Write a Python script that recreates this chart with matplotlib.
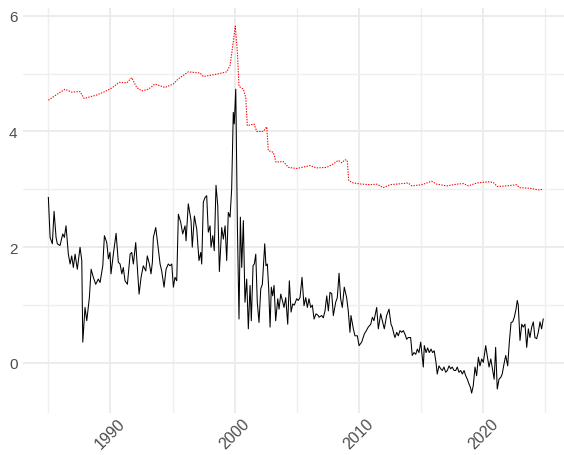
import matplotlib
matplotlib.use("Agg")
import matplotlib.pyplot as plt
from matplotlib.ticker import FixedLocator

# ---- data ----
black_years = [
    1985.0, 1985.14, 1985.32, 1985.46, 1985.62, 1985.72, 1985.94, 1986.16, 1986.29, 1986.42,
    1986.61, 1986.75, 1986.88, 1987.01, 1987.15, 1987.33, 1987.55, 1987.69, 1987.77, 1987.95,
    1988.09, 1988.30, 1988.44, 1988.62, 1988.81, 1989.02, 1989.16, 1989.38, 1989.51, 1989.70,
    1989.83, 1989.96, 1990.04, 1990.23, 1990.45, 1990.63, 1990.77, 1990.91, 1991.03, 1991.17,
    1991.36, 1991.58, 1991.71, 1991.84, 1992.03, 1992.30, 1992.46, 1992.64, 1992.84, 1992.96,
    1993.13, 1993.26, 1993.37, 1993.45, 1993.64, 1993.80, 1993.99, 1994.12, 1994.31, 1994.47,
    1994.65, 1994.79, 1994.93, 1995.06, 1995.19, 1995.33, 1995.46, 1995.65, 1995.81, 1996.0,
    1996.08, 1996.26, 1996.48, 1996.58, 1996.75, 1996.94, 1997.12, 1997.26, 1997.34, 1997.47,
    1997.61, 1997.74, 1997.87, 1998.01, 1998.09, 1998.23, 1998.35, 1998.49, 1998.63, 1998.76,
    1998.95, 1999.08, 1999.22, 1999.35, 1999.48, 1999.62, 1999.75, 1999.88, 1999.96, 2000.08,
    2000.21, 2000.34, 2000.45, 2000.56, 2000.69, 2000.82, 2000.96, 2001.09, 2001.23, 2001.33,
    2001.47, 2001.57, 2001.69, 2001.81, 2001.95, 2002.09, 2002.22, 2002.41, 2002.51, 2002.62,
    2002.73, 2002.84, 2002.94, 2003.05, 2003.16, 2003.29, 2003.46, 2003.56, 2003.70, 2003.83,
    2003.96, 2004.10, 2004.26, 2004.39, 2004.53, 2004.66, 2004.79, 2004.98, 2005.11, 2005.25,
    2005.41, 2005.57, 2005.71, 2005.84, 2005.97, 2006.11, 2006.24, 2006.38, 2006.54, 2006.72,
    2006.78, 2006.99, 2007.12, 2007.26, 2007.40, 2007.53, 2007.66, 2007.80, 2007.93, 2008.12,
    2008.25, 2008.39, 2008.52, 2008.65, 2008.81, 2009.0, 2009.13, 2009.27, 2009.35, 2009.54,
    2009.67, 2009.86, 2010.0, 2010.21, 2010.42, 2010.56, 2010.74, 2010.94, 2011.07, 2011.20,
    2011.42, 2011.55, 2011.74, 2011.87, 2012.03, 2012.22, 2012.41, 2012.57, 2012.67, 2012.84,
    2012.89, 2013.03, 2013.16, 2013.29, 2013.43, 2013.56, 2013.69, 2013.83, 2013.96, 2014.15,
    2014.28, 2014.42, 2014.56, 2014.69, 2014.82, 2014.96, 2015.06, 2015.17, 2015.25, 2015.39,
    2015.52, 2015.65, 2015.79, 2015.92, 2016.05, 2016.19, 2016.29, 2016.43, 2016.57, 2016.70,
    2016.83, 2016.97, 2017.10, 2017.24, 2017.37, 2017.50, 2017.64, 2017.78, 2017.90, 2018.04,
    2018.18, 2018.31, 2018.45, 2018.58, 2018.71, 2018.84, 2018.96, 2019.06, 2019.19, 2019.33,
    2019.46, 2019.60, 2019.73, 2019.87, 2020.0, 2020.19, 2020.33, 2020.46, 2020.60, 2020.73,
    2020.87, 2020.99, 2021.12, 2021.26, 2021.40, 2021.52, 2021.66, 2021.80, 2021.96, 2022.09,
    2022.23, 2022.36, 2022.49, 2022.63, 2022.73, 2022.81, 2022.95, 2023.09, 2023.21, 2023.35,
    2023.49, 2023.62, 2023.75, 2023.89, 2024.02, 2024.15, 2024.29, 2024.42, 2024.56, 2024.69,
    2024.82,
]
black_values = [
    2.86, 2.17, 2.06, 2.62, 2.17, 2.06, 2.03, 2.23, 2.17, 2.37,
    1.88, 1.71, 1.85, 1.65, 1.88, 1.62, 2.00, 1.77, 0.36, 0.96,
    0.73, 1.13, 1.62, 1.48, 1.36, 1.45, 1.39, 1.68, 2.20, 2.08,
    1.80, 1.91, 1.54, 1.88, 2.24, 1.74, 1.71, 1.54, 1.65, 1.42,
    1.36, 1.88, 1.91, 1.71, 2.08, 1.19, 1.48, 1.68, 1.59, 1.85,
    1.71, 1.54, 1.74, 2.17, 2.34, 2.06, 1.71, 1.59, 1.31, 1.62,
    1.71, 1.68, 1.71, 1.31, 1.48, 1.42, 2.57, 2.43, 2.23, 2.37,
    2.11, 2.75, 2.46, 2.00, 2.54, 2.31, 1.77, 1.91, 1.71, 2.78,
    2.86, 2.89, 2.26, 2.37, 2.00, 2.20, 1.94, 3.07, 2.72, 1.58,
    2.34, 2.14, 2.37, 1.77, 2.60, 2.52, 3.01, 4.33, 4.13, 4.73,
    2.37, 0.76, 2.52, 1.65, 2.46, 1.05, 1.45, 0.59, 1.34, 0.73,
    1.68, 1.71, 1.88, 1.05, 0.70, 1.28, 1.36, 2.06, 1.68, 1.71,
    1.28, 0.62, 1.31, 1.16, 1.34, 0.73, 1.11, 0.93, 1.19, 1.08,
    0.96, 1.13, 0.67, 1.42, 0.88, 1.02, 1.00, 1.11, 1.08, 1.13,
    1.48, 0.99, 1.13, 0.96, 1.11, 0.96, 1.00, 0.76, 0.85, 0.82,
    0.79, 0.82, 0.78, 0.90, 1.16, 0.90, 1.22, 1.20, 0.82, 1.05,
    1.13, 1.55, 1.11, 0.96, 1.31, 1.13, 0.90, 0.53, 0.82, 0.59,
    0.47, 0.47, 0.30, 0.36, 0.50, 0.55, 0.62, 0.67, 0.79, 0.73,
    0.96, 0.59, 0.85, 0.73, 0.59, 0.82, 0.93, 0.67, 0.62, 0.47,
    0.44, 0.53, 0.47, 0.56, 0.53, 0.56, 0.50, 0.41, 0.44, 0.44,
    0.13, 0.18, 0.15, 0.24, 0.18, 0.36, 0.15, -0.07, 0.30, 0.18,
    0.26, 0.18, 0.24, 0.18, 0.21, 0.01, -0.19, -0.05, -0.10, -0.13,
    -0.07, -0.16, -0.13, -0.05, -0.10, -0.07, -0.13, -0.13, -0.07, -0.16,
    -0.13, -0.19, -0.13, -0.22, -0.28, -0.36, -0.42, -0.52, -0.39, -0.07,
    -0.22, 0.10, -0.05, 0.07, 0.01, 0.30, 0.10, -0.07, 0.07, -0.10,
    -0.28, 0.27, -0.45, -0.28, -0.25, -0.19, -0.02, 0.13, -0.05, 0.36,
    0.70, 0.71, 0.79, 0.93, 1.08, 1.00, 0.39, 0.67, 0.62, 0.67,
    0.27, 0.59, 0.44, 0.62, 0.71, 0.44, 0.42, 0.53, 0.71, 0.59,
    0.76,
]

red_years = [
    1985.0, 1985.54, 1986.34, 1986.88, 1987.55, 1987.87, 1988.89, 1989.56, 1990.10, 1990.71,
    1991.31, 1991.71, 1992.11, 1992.51, 1993.05, 1993.58, 1994.39, 1995.06, 1995.46, 1996.26,
    1997.20, 1997.47, 1998.55, 1999.35, 1999.62, 1999.80, 2000.04, 2000.21, 2000.34, 2000.69,
    2000.88, 2001.01, 2001.55, 2001.77, 2002.30, 2002.57, 2002.70, 2003.10, 2003.32, 2003.91,
    2004.31, 2004.98, 2006.05, 2006.59, 2007.40, 2007.93, 2008.33, 2008.60, 2008.87, 2009.05,
    2009.17, 2009.54, 2010.21, 2010.88, 2011.42, 2011.95, 2012.49, 2013.96, 2014.24, 2015.04,
    2015.84, 2016.25, 2017.05, 2017.86, 2018.39, 2018.79, 2019.47, 2020.40, 2020.80, 2021.12,
    2021.88, 2022.68, 2022.89, 2023.75, 2024.42, 2024.82,
]
red_values = [
    4.54, 4.62, 4.73, 4.68, 4.69, 4.57, 4.63, 4.69, 4.75, 4.85,
    4.84, 4.93, 4.76, 4.70, 4.73, 4.82, 4.76, 4.82, 4.91, 5.03,
    5.01, 4.95, 4.99, 5.03, 5.14, 5.42, 5.82, 5.37, 4.78, 4.73,
    4.59, 4.10, 4.13, 4.00, 4.00, 4.08, 3.67, 3.64, 3.47, 3.48,
    3.38, 3.36, 3.41, 3.37, 3.38, 3.44, 3.50, 3.46, 3.51, 3.50,
    3.15, 3.11, 3.09, 3.08, 3.09, 3.03, 3.08, 3.11, 3.06, 3.08,
    3.14, 3.09, 3.06, 3.09, 3.10, 3.06, 3.11, 3.13, 3.12, 3.05,
    3.06, 3.08, 3.03, 3.02, 2.99, 3.00,
]

x_major = [1990, 2000, 2010, 2020]
x_minor = [1985, 1995, 2005, 2015, 2025]
y_major = [0, 2, 4, 6]
y_minor = [1, 3, 5]

# ---- figure ----
fig = plt.figure(figsize=(5.64, 4.56), dpi=100)
ax = fig.add_axes([23 / 564, 42 / 456, 541 / 564, 405.4 / 456])

ax.plot(black_years, black_values, color="black", lw=0.75, zorder=3)
ax.plot(red_years, red_values, color="#FF0000", lw=0.8, linestyle=(0, (1.2, 1.2)), zorder=3)

ax.set_xlim(1982.96, 2026.49)
ax.set_ylim(-0.864, 6.14)

ax.xaxis.set_major_locator(FixedLocator(x_major))
ax.xaxis.set_minor_locator(FixedLocator(x_minor))
ax.yaxis.set_major_locator(FixedLocator(y_major))
ax.yaxis.set_minor_locator(FixedLocator(y_minor))

ax.grid(which="major", color="#EBEBEB", lw=1.3)
ax.grid(which="minor", color="#EFEFEF", lw=1.0)
ax.set_axisbelow(True)
for s in ax.spines.values():
    s.set_visible(False)

ax.tick_params(which="both", length=0)
ax.tick_params(axis="y", pad=4, labelsize=11, labelcolor="#4D4D4D")
ax.tick_params(axis="x", pad=2, labelsize=11.5, labelcolor="#4D4D4D")
ax.set_xticklabels([str(v) for v in x_major], rotation=45, ha="center",
                   family="Liberation Sans")
for lab in ax.get_yticklabels():
    lab.set_family("Liberation Sans")

fig.savefig("out.png", dpi=100)
